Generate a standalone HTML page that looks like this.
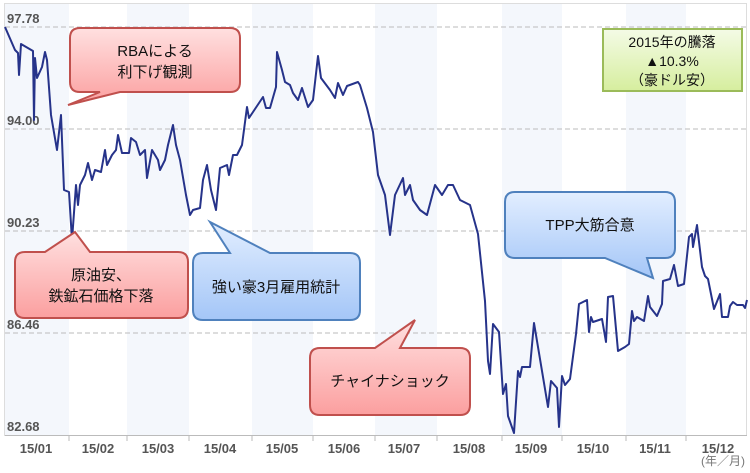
<!DOCTYPE html>
<html><head><meta charset="utf-8"><style>
body{margin:0;background:#fff;}
svg text{font-family:"Liberation Sans","Noto Sans CJK JP",sans-serif;}
</style></head><body>
<svg width="750" height="468" viewBox="0 0 750 468" xmlns="http://www.w3.org/2000/svg">
<defs>
<linearGradient id="rg" x1="0" y1="0" x2="0" y2="1"><stop offset="0" stop-color="#ffe0e0"/><stop offset="1" stop-color="#fb9f9f"/></linearGradient>
<linearGradient id="bg" x1="0" y1="0" x2="0" y2="1"><stop offset="0" stop-color="#e2eeff"/><stop offset="1" stop-color="#a4c6f7"/></linearGradient>
<linearGradient id="gg" x1="0" y1="0" x2="0" y2="1"><stop offset="0" stop-color="#f4fbe6"/><stop offset="1" stop-color="#d6ee9e"/></linearGradient>
</defs>
<rect x="0" y="0" width="750" height="468" fill="#fff"/>
<g fill="#f4f7fc">
<rect x="5" y="4" width="64" height="431"/><rect x="127" y="4" width="62" height="431"/><rect x="252" y="4" width="61" height="431"/>
<rect x="375" y="4" width="62" height="431"/><rect x="502" y="4" width="60" height="431"/><rect x="626" y="4" width="60" height="431"/>
</g>
<rect x="4.5" y="3.5" width="742" height="432" fill="none" stroke="#ddd"/>
<g stroke="#bbb" stroke-dasharray="5,3">
<line x1="5" y1="27" x2="746" y2="27"/><line x1="5" y1="129" x2="746" y2="129"/><line x1="5" y1="231" x2="746" y2="231"/><line x1="5" y1="333" x2="746" y2="333"/>
</g>
<line x1="5" y1="435.5" x2="747" y2="435.5" stroke="#bbb"/>
<g stroke="#bbb"><line x1="69" y1="435" x2="69" y2="441"/><line x1="127" y1="435" x2="127" y2="441"/><line x1="189" y1="435" x2="189" y2="441"/><line x1="252" y1="435" x2="252" y2="441"/><line x1="313" y1="435" x2="313" y2="441"/><line x1="375" y1="435" x2="375" y2="441"/><line x1="437" y1="435" x2="437" y2="441"/><line x1="502" y1="435" x2="502" y2="441"/><line x1="562" y1="435" x2="562" y2="441"/><line x1="626" y1="435" x2="626" y2="441"/><line x1="686" y1="435" x2="686" y2="441"/></g>
<g font-size="13" font-weight="bold" fill="#555">
<text x="7" y="23">97.78</text><text x="7" y="125">94.00</text><text x="7" y="227">90.23</text><text x="7" y="329">86.46</text><text x="7" y="431">82.68</text>
</g>
<g font-size="13" font-weight="bold" fill="#555" text-anchor="middle">
<text x="36" y="453">15/01</text><text x="98" y="453">15/02</text><text x="158" y="453">15/03</text><text x="220" y="453">15/04</text><text x="282" y="453">15/05</text><text x="344" y="453">15/06</text><text x="404" y="453">15/07</text><text x="469" y="453">15/08</text><text x="531" y="453">15/09</text><text x="593" y="453">15/10</text><text x="655" y="453">15/11</text><text x="718" y="453">15/12</text>
</g>
<text x="723" y="465" font-size="12" fill="#777" text-anchor="middle">(年／月)</text>
<polyline fill="none" stroke="#26338a" stroke-width="2" stroke-linejoin="round" points="5,27 15,50 18,53 19,75 21,44 33,51 34,120 35,58 37,78 42,67 45,52 47,60 51,115 57,150 61,115 64,190 69,192 72,240 76,185 78,205 80,185 85,175 88,163 92,180 95,170 101,172 105,150 107,165 112,155 116,150 118,135 122,153 129,153 131,138 136,142 140,155 145,150 147,178 152,150 158,160 160,170 165,160 168,145 173,125 176,145 180,160 186,195 190,215 193,210 200,208 203,180 207,165 211,190 216,210 220,168 227,165 229,175 233,155 237,155 242,145 247,107 249,118 263,97 266,108 270,108 276,87 277,52 282,70 285,82 290,85 293,93 298,100 302,88 308,107 313,100 318,56 321,78 330,90 335,98 338,83 343,95 347,86 358,82 360,85 367,108 373,132 378,175 385,195 390,235 395,195 403,178 405,195 410,185 413,200 420,210 427,215 435,185 442,195 448,185 453,185 460,200 470,205 478,234 485,301 488,361 490,374 493,324 499,332 503,394 506,384 508,416 514,433 518,371 520,377 522,367 530,367 534,323 548,407 551,381 557,388 559,427 562,376 565,385 570,379 576,334 579,304 587,300 589,332 591,317 593,322 602,319 606,342 608,297 613,296 618,351 625,347 629,344 632,311 634,321 637,317 644,321 648,296 650,307 657,316 662,304 663,281 670,279 674,265 678,286 684,284 689,237 692,234 693,247 697,225 702,267 705,276 708,279 714,309 720,294 722,317 728,317 730,306 733,302 737,305 743,305 745,308 747,300"/>
<g stroke-width="2">
<path d="M80,28 H230 Q240,28 240,38 V82 Q240,92 230,92 H120 L68,105 L100,92 H80 Q70,92 70,82 V38 Q70,28 80,28 Z" fill="url(#rg)" stroke="#c0504d"/>
<path d="M25,252 H45 L75,232 L90,252 H178 Q188,252 188,262 V308 Q188,318 178,318 H25 Q15,318 15,308 V262 Q15,252 25,252 Z" fill="url(#rg)" stroke="#c0504d"/>
<path d="M203,253 H230 L210,222 L270,253 H350 Q360,253 360,263 V310 Q360,320 350,320 H203 Q193,320 193,310 V263 Q193,253 203,253 Z" fill="url(#bg)" stroke="#4f81bd"/>
<path d="M320,348 H375 L415,320 L400,348 H460 Q470,348 470,358 V405 Q470,415 460,415 H320 Q310,415 310,405 V358 Q310,348 320,348 Z" fill="url(#rg)" stroke="#c0504d"/>
<path d="M515,192 H665 Q675,192 675,202 V248 Q675,258 665,258 H647 L653,278 L605,258 H515 Q505,258 505,248 V202 Q505,192 515,192 Z" fill="url(#bg)" stroke="#4f81bd"/>
<rect x="603" y="29" width="139" height="62" fill="url(#gg)" stroke="#9bbb59"/>
</g>
<g font-size="15" fill="#111" text-anchor="middle">
<text x="155" y="56">RBAによる</text><text x="155" y="77">利下げ観測</text>
<text x="101" y="280">原油安、</text><text x="101" y="301">鉄鉱石価格下落</text>
<text x="276" y="292">強い豪3月雇用統計</text>
<text x="390" y="386">チャイナショック</text>
<text x="590" y="230">TPP大筋合意</text>
</g>
<g font-size="14" fill="#111" text-anchor="middle">
<text x="672" y="47">2015年の騰落</text><text x="672" y="66">▲10.3%</text><text x="672" y="85">（豪ドル安）</text>
</g>
</svg>
</body></html>
